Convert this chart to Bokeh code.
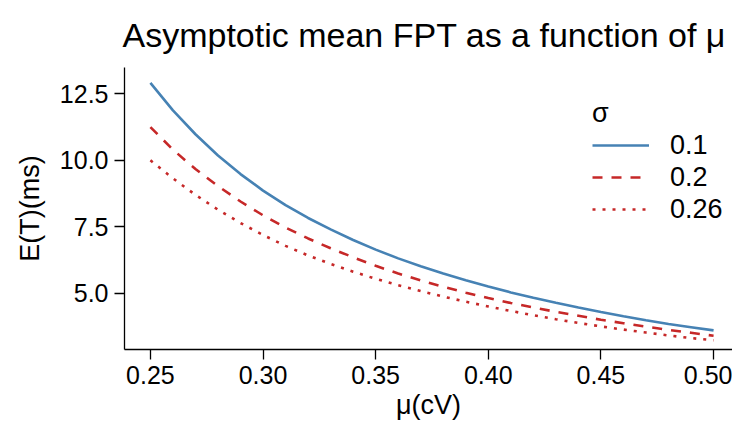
from bokeh.plotting import figure
from bokeh.models import Range1d, FixedTicker, Legend, LegendItem, NumeralTickFormatter
from bokeh.embed import file_html
from bokeh.resources import INLINE

# ---- data ----
mu = [0.25, 0.26, 0.27, 0.28, 0.29, 0.30, 0.31, 0.32, 0.33, 0.34, 0.35, 0.36, 0.37,
      0.38, 0.39, 0.40, 0.41, 0.42, 0.43, 0.44, 0.45, 0.46, 0.47, 0.48, 0.49, 0.50]
et_sigma_01 = [12.91, 11.88, 10.98, 10.18, 9.48, 8.86, 8.31, 7.83, 7.40, 7.00, 6.64, 6.31, 6.01,
               5.74, 5.49, 5.25, 5.03, 4.83, 4.64, 4.46, 4.29, 4.13, 3.98, 3.84, 3.72, 3.60]
et_sigma_02 = [11.25, 10.40, 9.67, 9.03, 8.45, 7.93, 7.47, 7.06, 6.69, 6.35, 6.03, 5.74, 5.48,
               5.24, 5.02, 4.82, 4.63, 4.46, 4.30, 4.15, 4.00, 3.87, 3.74, 3.62, 3.51, 3.40]
et_sigma_026 = [10.00, 9.32, 8.70, 8.14, 7.64, 7.19, 6.78, 6.42, 6.10, 5.81, 5.54, 5.30, 5.08,
                4.87, 4.68, 4.50, 4.33, 4.17, 4.02, 3.88, 3.75, 3.63, 3.52, 3.41, 3.31, 3.23]
sigma_labels = ["0.1", "0.2", "0.26"]
x_ticks = [0.25, 0.30, 0.35, 0.40, 0.45, 0.50]
y_ticks = [5.0, 7.5, 10.0, 12.5]

FONT = "Liberation Sans"
BLUE = "#4682B4"
RED = "#C62828"

all_y = et_sigma_01 + et_sigma_02 + et_sigma_026
ymin, ymax = min(all_y), max(all_y)
xmin, xmax = min(mu), max(mu)
yspan = ymax - ymin
xspan = xmax - xmin

p = figure(width=732, height=422, output_backend="svg", toolbar_location=None,
           x_range=Range1d(xmin - 0.046 * xspan, xmax + 0.0336 * xspan),
           y_range=Range1d(ymin - 0.036 * yspan, ymax + 0.06 * yspan),
           min_border_left=124, min_border_right=0, min_border_top=67, min_border_bottom=72)

p.title.text = "Asymptotic mean FPT as a function of \u03bc"
p.title.text_font = FONT
p.title.text_font_size = "34px"
p.title.text_font_style = "normal"
p.title.text_color = "black"
p.title.align = "left"
p.title.offset = -2
p.title.standoff = 27

p.outline_line_color = None
p.xgrid.grid_line_color = None
p.ygrid.grid_line_color = None
p.background_fill_color = "white"
p.border_fill_color = "white"

for ax in (p.xaxis[0], p.yaxis[0]):
    ax.axis_line_color = "black"
    ax.axis_line_width = 1.3
    ax.major_tick_line_color = "black"
    ax.major_tick_line_width = 1.3
    ax.major_tick_out = 10
    ax.major_tick_in = 0
    ax.minor_tick_line_color = None
    ax.major_label_text_font = FONT
    ax.major_label_text_font_size = "25px"
    ax.major_label_text_color = "black"
    ax.axis_label_text_font = FONT
    ax.axis_label_text_font_size = "27px"
    ax.axis_label_text_font_style = "normal"
    ax.axis_label_text_color = "black"

p.xaxis[0].ticker = FixedTicker(ticks=x_ticks)
p.xaxis[0].formatter = NumeralTickFormatter(format="0.00")
p.xaxis[0].axis_label = "\u03bc(cV)"
p.xaxis[0].major_label_standoff = 6
p.xaxis[0].axis_label_standoff = 3

p.yaxis[0].ticker = FixedTicker(ticks=y_ticks)
p.yaxis[0].formatter = NumeralTickFormatter(format="0.0")
p.yaxis[0].axis_label = "E(T)(ms)"
p.yaxis[0].major_label_standoff = 6
p.yaxis[0].axis_label_standoff = 12

r1 = p.line(mu, et_sigma_01, line_color=BLUE, line_width=2.6)
r2 = p.line(mu, et_sigma_02, line_color=RED, line_width=2.6, line_dash="10 9")
r3 = p.line(mu, et_sigma_026, line_color=RED, line_width=2.6, line_dash="3 7")

legend = Legend(items=[LegendItem(label=sigma_labels[0], renderers=[r1]),
                       LegendItem(label=sigma_labels[1], renderers=[r2]),
                       LegendItem(label=sigma_labels[2], renderers=[r3])],
                location=(468, 124), title="\u03c3",
                border_line_color=None, background_fill_alpha=0,
                padding=0, margin=0, spacing=0,
                glyph_width=57, glyph_height=32, label_height=32,
                label_standoff=21,
                label_text_font=FONT, label_text_font_size="27px",
                label_text_color="black",
                title_text_font=FONT, title_text_font_size="27px",
                title_text_color="black",
                title_text_font_style="normal", title_standoff=0)
p.add_layout(legend, "center")

open("out.html", "w").write(file_html(p, INLINE))
